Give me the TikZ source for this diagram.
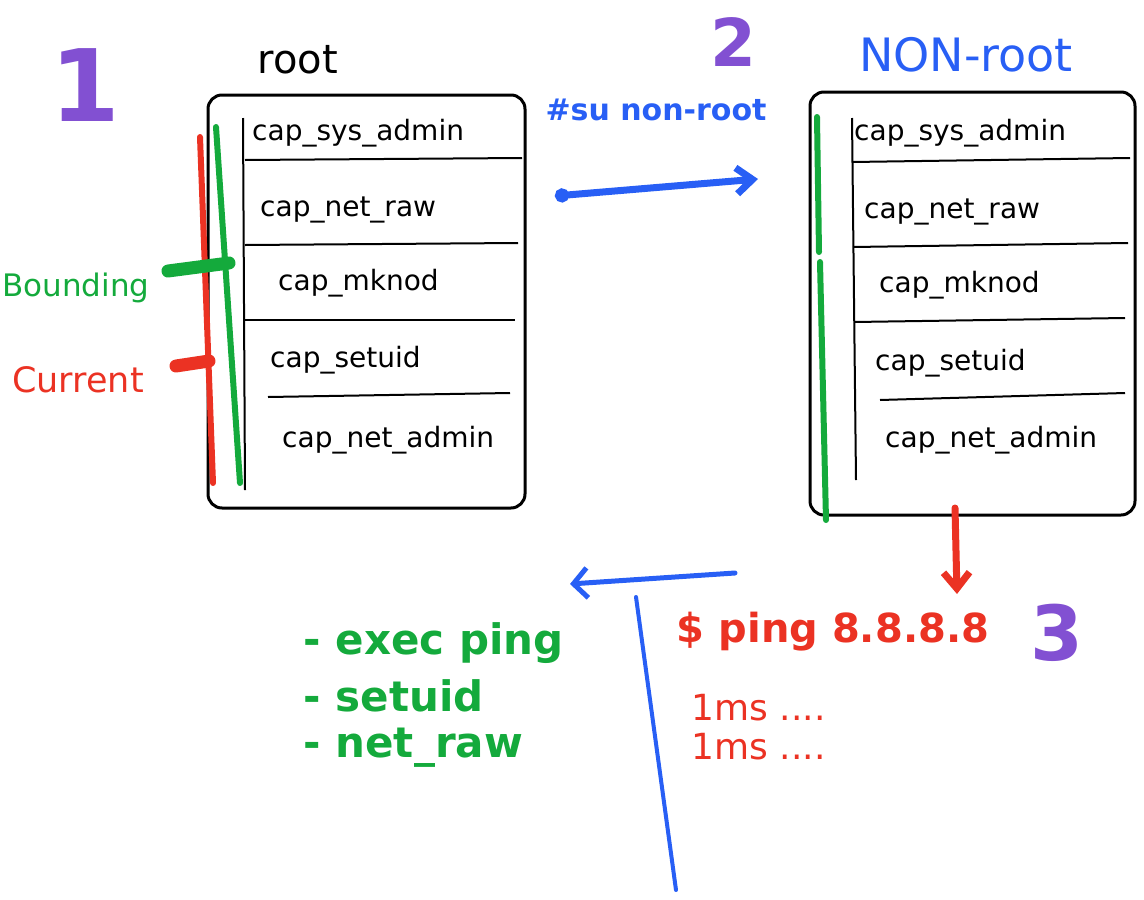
\documentclass[tikz,border=0pt]{standalone}
\usepackage{fontspec}
\setmainfont{DejaVu Sans}
\usetikzlibrary{arrows.meta, positioning}
\definecolor{penblue}{RGB}{40,95,245}
\definecolor{pengreen}{RGB}{20,170,60}
\definecolor{penred}{RGB}{235,50,35}
\definecolor{penpurple}{RGB}{130,80,210}
\colorlet{ink}{black}

\begin{document}
\begin{tikzpicture}[x=1pt, y=-1pt,
    capbox/.style={draw=ink, line width=3pt, rounded corners=14pt,
      inner sep=0pt},
    captext/.style={anchor=west, inner sep=2pt, text=ink,
      font=\fontsize{28}{32}\selectfont},
    sep/.style={ink, line width=2pt},
    setline/.style={line width=6pt, line cap=round},
    stub/.style={line width=13pt, line cap=round},
    stepnum/.style={text=penpurple, inner sep=0pt},
    pen/.style={line width=7pt, line cap=round},
  ]
    \useasboundingbox (0,0) rectangle (1144,900);

    % root side
    \node[stepnum, font=\fontsize{100}{100}\selectfont\bfseries] (one) at (85,85) {1};
    \node[font=\fontsize{40}{44}\selectfont, text=ink] (rootlbl) at (298,60) {root};
    \node[capbox, minimum width=317pt, minimum height=413pt] (rootbox) at (366.5,301.5) {};
    \draw[sep] (243,118) -- (245,490);
    \node[captext] (rsys) at (250,133) {cap\_sys\_admin};
    \draw[sep] (245,160) -- (522,158);
    \node[captext] (rraw) at (258,210) {cap\_net\_raw};
    \draw[sep] (245,245) -- (518,243);
    \node[captext] (rmknod) at (276,283) {cap\_mknod};
    \draw[sep] (245,320) -- (515,320);
    \node[captext] (rsetuid) at (268,360) {cap\_setuid};
    \draw[sep] (268,397) -- (510,393);
    \node[captext] (radmin) at (280,440) {cap\_net\_admin};

    \draw[setline, pengreen] (216,127) -- (240,483);
    \draw[setline, penred] (200,137) -- (213,483);
    \coordinate (bndend) at (229,263);
    \coordinate (curend) at (209,361);
    \node[text=pengreen, font=\fontsize{31}{34}\selectfont] (bounding) at (76,288) {Bounding};
    \node[text=penred, font=\fontsize{35}{38}\selectfont] (current) at (78,380) {Current};
    \coordinate (bndstart) at (168,271);
    \coordinate (curstart) at (176,366);
    \draw[stub, pengreen] (bndstart) -- (bndend);
    \draw[stub, penred] (curstart) -- (curend);

    % switch user
    \node[stepnum, font=\fontsize{66}{66}\selectfont\bfseries] (two) at (733,42) {2};
    \node[text=penblue, font=\fontsize{30}{34}\selectfont\bfseries] (su) at (656,110) {\#su non-root};
    \coordinate (sufrom) at (555,196);
    \coordinate (suto) at (758,179);
    \draw[pen, penblue, {Circle[length=14pt]}-{Straight Barb[length=16pt, width=26pt]}] (sufrom) -- (suto);

    % non-root side
    \node[text=penblue, font=\fontsize{46}{50}\selectfont] (nonroot) at (966,55) {NON-root};
    \node[capbox, minimum width=325pt, minimum height=423pt] (nonbox) at (972.5,303.5) {};
    \draw[sep] (852,118) -- (856,480);
    \node[captext] (nsys) at (852,133) {cap\_sys\_admin};
    \draw[sep] (852,162) -- (1130,158);
    \node[captext] (nraw) at (862,212) {cap\_net\_raw};
    \draw[sep] (853,247) -- (1128,243);
    \node[captext] (nmknod) at (877,285) {cap\_mknod};
    \draw[sep] (854,322) -- (1125,318);
    \node[captext] (nsetuid) at (873,363) {cap\_setuid};
    \draw[sep] (880,400) -- (1125,393);
    \node[captext] (nadmin) at (883,440) {cap\_net\_admin};
    \draw[setline, pengreen] (817,117) -- (819,252);
    \draw[setline, pengreen] (820,262) -- (826,520);

    % ping
    \node[text=penred, font=\fontsize{40}{44}\selectfont\bfseries] (ping) at (833,632) {\$ ping 8.8.8.8};
    \node[stepnum, font=\fontsize{76}{76}\selectfont\bfseries] (three) at (1057,633) {3};
    \coordinate (pingfrom) at (955,508);
    \coordinate (pingto) at (957,594);
    \draw[pen, penred, -{Straight Barb[length=16pt, width=26pt]}] (pingfrom) -- (pingto);
    \node[text=penred, font=\fontsize{36}{40}\selectfont, anchor=west] (ms1) at (688,708) {1ms ....};
    \node[text=penred, font=\fontsize{36}{40}\selectfont, anchor=west] (ms2) at (688,747) {1ms ....};

    % needed by ping
    \node[text=pengreen, font=\fontsize{42}{46}\selectfont\bfseries, anchor=west] (exec) at (300,643) {- exec ping};
    \node[text=pengreen, font=\fontsize{42}{46}\selectfont\bfseries, anchor=west] (setuid) at (300,696) {- setuid};
    \node[text=pengreen, font=\fontsize{42}{46}\selectfont\bfseries, anchor=west] (netraw) at (300,748) {- net\_raw};
    \coordinate (tfrom) at (735,573);
    \coordinate (tto) at (570,584);
    \coordinate (ttop) at (636,597);
    \coordinate (tbot) at (676,890);
    \draw[line width=5pt, line cap=round, penblue, -{Straight Barb[length=14pt, width=30pt]}] (tfrom) -- (tto);
    \draw[line width=4pt, line cap=round, penblue] (ttop) -- (tbot);
  \end{tikzpicture}
\end{document}
